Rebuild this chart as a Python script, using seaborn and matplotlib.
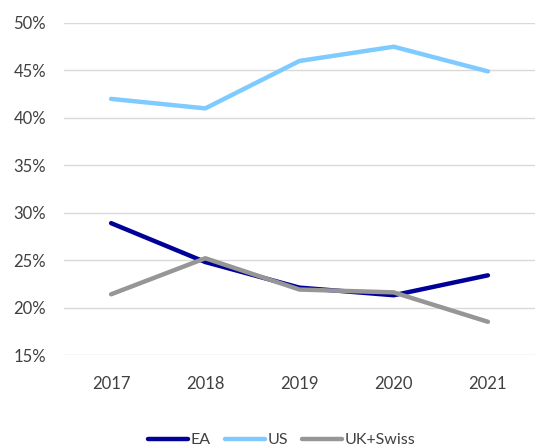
import matplotlib
matplotlib.use("Agg")
import matplotlib.pyplot as plt
import seaborn as sns
import pandas as pd

years = ["2017", "2018", "2019", "2020", "2021"]
ea = [28.9, 24.8, 22.1, 21.3, 23.4]
us = [42.0, 41.0, 46.0, 47.5, 44.9]
uk_swiss = [21.4, 25.2, 21.9, 21.6, 18.5]
series_names = ["EA", "US", "UK+Swiss"]
colors = ["#000099", "#7fcbff", "#969696"]
yticks = [15, 20, 25, 30, 35, 40, 45, 50]

df = pd.DataFrame({"year": years * 3,
                   "value": ea + us + uk_swiss,
                   "series": sum([[n] * len(years) for n in series_names], [])})

sns.set_theme(style="white")
plt.rcParams['font.family'] = ['Lato', 'DejaVu Sans']

fig = plt.figure(figsize=(5.35, 4.48), dpi=100)
ax = fig.add_axes([64/535, 1-355/448, 1-64/535, (355-23)/448])
sns.lineplot(data=df, x="year", y="value", hue="series", palette=colors,
             hue_order=series_names, linewidth=3.2, ax=ax, sort=False)
ax.set_xlim(-0.5, 4.5)
ax.set_ylim(15, 50)
ax.set_yticks(yticks)
ax.set_yticklabels([f"{v}%" for v in yticks])
ax.grid(axis="y", color="#d9d9d9", linewidth=1)
ax.set_axisbelow(True)
for s in ax.spines.values():
    s.set_visible(False)
ax.set_xlabel("")
ax.set_ylabel("")
ax.tick_params(axis="both", length=0, labelsize=12, colors="#404040")
ax.tick_params(axis="x", pad=15)
ax.tick_params(axis="y", pad=13)
for lab in ax.get_xticklabels() + ax.get_yticklabels():
    lab.set_color("#404040")
handles, labels = ax.get_legend_handles_labels()
ax.get_legend().remove()
fig.legend(handles, labels, loc="center", bbox_to_anchor=(282/535, 1-440/448),
           ncol=3, frameon=False, fontsize=11.5, handlelength=2.5,
           handletextpad=0.15, columnspacing=0.9, labelcolor="#404040")
fig.savefig("out.png", dpi=100)
